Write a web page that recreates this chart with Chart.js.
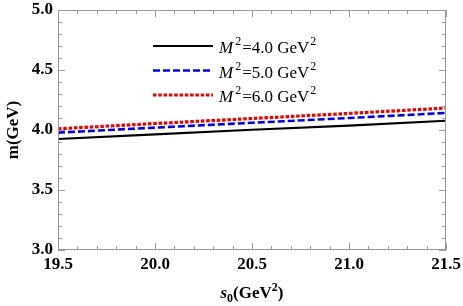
<!DOCTYPE html>
<html>
<head>
<meta charset="utf-8">
<script src="https://cdn.jsdelivr.net/npm/chart.js@4"></script>
<style>
  html, body { margin: 0; padding: 0; background: #fff; }
  #wrap { width: 463px; height: 306px; }
</style>
</head>
<body>
<div id="wrap"><canvas id="canvas" width="463" height="306"></canvas></div>
<script>
// values
var s0 = [19.5, 20.0, 20.5, 21.0, 21.5];
var m2_4 = [3.925, 3.963, 4.002, 4.036, 4.077];
var m2_5 = [3.978, 4.020, 4.060, 4.100, 4.142];
var m2_6 = [4.010, 4.054, 4.096, 4.138, 4.183];
var xTicks = [19.5, 20.0, 20.5, 21.0, 21.5];
var yTicks = [3.0, 3.5, 4.0, 4.5, 5.0];
var legendLabels = ["4.0", "5.0", "6.0"];

var serif = "'Liberation Serif', 'Times New Roman', serif";

function pts(ys) {
    return s0.map(function (x, i) { return {x: x, y: ys[i]}; });
}

// inward ticks on all four sides, plus the legend
var framePlugin = {
    id: 'frame',
    afterDraw: function (chart) {
        var ctx = chart.ctx, a = chart.chartArea;
        var xs = chart.scales.x, ys = chart.scales.y;
        ctx.save();
        ctx.strokeStyle = '#999';
        ctx.lineWidth = 1;
        ctx.strokeRect(a.left + 0.5, a.top + 0.5, a.right - a.left - 1, a.bottom - a.top - 1);
        ctx.beginPath();
        for (var i = 0; i <= 20; i++) {
            var v = 19.5 + i * 0.1;
            var px = Math.round(xs.getPixelForValue(v)) + 0.5;
            var len = (i % 5 === 0) ? 7 : 4;
            ctx.moveTo(px, a.bottom); ctx.lineTo(px, a.bottom - len);
            ctx.moveTo(px, a.top); ctx.lineTo(px, a.top + len);
        }
        for (var j = 0; j <= 20; j++) {
            var w = 3.0 + j * 0.1;
            var py = Math.round(ys.getPixelForValue(w)) + 0.5;
            var l2 = (j % 5 === 0) ? 7 : 4;
            ctx.moveTo(a.left, py); ctx.lineTo(a.left + l2, py);
            ctx.moveTo(a.right, py); ctx.lineTo(a.right - l2, py);
        }
        ctx.stroke();

        // legend
        var ds = chart.data.datasets;
        for (var k = 0; k < ds.length; k++) {
            var ly = 46 + k * 24.5;
            ctx.strokeStyle = ds[k].borderColor;
            ctx.lineWidth = ds[k].borderWidth;
            ctx.setLineDash(ds[k].borderDash || []);
            ctx.beginPath();
            ctx.moveTo(153, ly); ctx.lineTo(213, ly);
            ctx.stroke();
            ctx.setLineDash([]);
            ctx.fillStyle = '#000';
            ctx.textBaseline = 'alphabetic';
            ctx.textAlign = 'left';
            var tx = 219, by = ly + 7;
            ctx.font = 'italic 17px ' + serif;
            ctx.fillText('M', tx, by);
            tx += ctx.measureText('M').width + 2;
            ctx.font = '12px ' + serif;
            ctx.fillText('2', tx, by - 8);
            tx += ctx.measureText('2').width + 1;
            ctx.font = '17px ' + serif;
            var t = '=' + legendLabels[k] + ' GeV';
            ctx.fillText(t, tx, by);
            tx += ctx.measureText(t).width + 1;
            ctx.font = '12px ' + serif;
            ctx.fillText('2', tx, by - 8);
        }

        // x axis title: s0(GeV^2)
        ctx.fillStyle = '#000';
        var parts = [
            {t: 's', f: 'italic bold 17px ', dy: 0},
            {t: '0', f: 'bold 12px ', dy: 4},
            {t: '(GeV', f: 'bold 17px ', dy: 0},
            {t: '2', f: 'bold 12px ', dy: -7},
            {t: ')', f: 'bold 17px ', dy: 0}
        ];
        var total = 0;
        parts.forEach(function (p) { ctx.font = p.f + serif; p.w = ctx.measureText(p.t).width; total += p.w; });
        var x0 = (a.left + a.right) / 2 - total / 2;
        parts.forEach(function (p) {
            ctx.font = p.f + serif;
            ctx.fillText(p.t, x0, 298 + p.dy);
            x0 += p.w;
        });
        ctx.restore();
    }
};

var config = {
    type: 'line',
    data: {
        datasets: [{
            label: 'M2=4.0',
            data: pts(m2_4),
            borderColor: '#000000',
            borderWidth: 2.2,
            pointRadius: 0,
            fill: false
        }, {
            label: 'M2=5.0',
            data: pts(m2_5),
            borderColor: '#0000ee',
            borderWidth: 2.6,
            borderDash: [7, 3],
            pointRadius: 0,
            fill: false
        }, {
            label: 'M2=6.0',
            data: pts(m2_6),
            borderColor: '#ee0000',
            borderWidth: 3.2,
            borderDash: [3.5, 1.8],
            pointRadius: 0,
            fill: false
        }]
    },
    options: {
        responsive: false,
        animation: false,
        events: [],
        layout: {padding: {top: 10, right: 17, left: 3, bottom: 0}},
        plugins: {
            legend: {display: false},
            tooltip: {enabled: false},
            title: {display: false}
        },
        scales: {
            x: {
                type: 'linear',
                min: 19.5,
                max: 21.5,
                afterFit: function (s) { s.height = 56; s.paddingLeft = 0; s.paddingRight = 0; },
                afterBuildTicks: function (s) { s.ticks = xTicks.map(function (v) { return {value: v}; }); },
                grid: {display: false, drawTicks: false},
                border: {display: false},
                ticks: {
                    color: '#000',
                    padding: 4,
                    maxRotation: 0,
                    font: {family: serif, size: 17, weight: 'bold'},
                    callback: function (v) { return v.toFixed(1); }
                },
                title: {display: false}
            },
            y: {
                type: 'linear',
                min: 3,
                max: 5,
                afterFit: function (s) { s.width = 55; s.paddingTop = 0; s.paddingBottom = 0; },
                afterBuildTicks: function (s) { s.ticks = yTicks.map(function (v) { return {value: v}; }); },
                grid: {display: false, drawTicks: false},
                border: {display: false},
                ticks: {
                    color: '#000',
                    padding: 5,
                    font: {family: serif, size: 17, weight: 'bold'},
                    callback: function (v) { return v.toFixed(1); }
                },
                title: {
                    display: true,
                    text: 'm(GeV)',
                    color: '#000',
                    padding: {top: 0, bottom: 0},
                    font: {family: serif, size: 17, weight: 'bold'}
                }
            }
        }
    },
    plugins: [framePlugin]
};

new Chart(document.getElementById('canvas').getContext('2d'), config);
</script>
</body>
</html>
